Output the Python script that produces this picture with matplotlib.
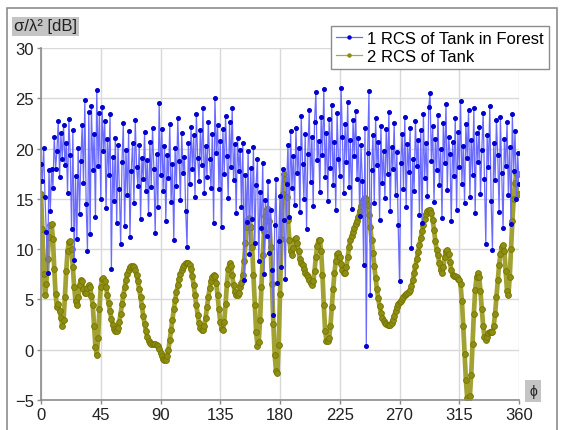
import numpy as np
import matplotlib
matplotlib.use('Agg')
import matplotlib.pyplot as plt
from matplotlib.patches import Rectangle
from matplotlib.lines import Line2D

plt.rcParams['font.family'] = ['Liberation Sans', 'DejaVu Sans']

# angle in degrees, 1 degree step
phi = np.arange(0, 361)

# 1 RCS of Tank in Forest [dB]
rcs_forest = [
    18.5, 16.8, 20.1, 15.2, 11.7, 7.6, 17.9, 13.8, 18.0, 16.1,
    21.2, 18.0, 19.8, 22.7, 17.2, 21.5, 19.0, 22.3, 18.4, 20.6,
    15.6, 22.9, 19.4, 12.0, 21.8, 8.9, 17.3, 11.0, 20.1, 13.5,
    18.8, 22.3, 16.6, 24.8, 14.5, 9.8, 23.6, 11.5, 24.2, 17.9,
    21.4, 13.2, 25.8, 18.3, 23.5, 15.0, 24.1, 19.8, 22.7, 14.1,
    21.0, 17.4, 23.4, 8.0, 19.2, 14.8, 21.1, 12.6, 20.4, 16.0,
    10.5, 18.7, 22.5, 12.3, 19.9, 15.4, 21.7, 11.2, 17.8, 20.6,
    14.6, 22.8, 18.2, 16.3, 20.4, 13.0, 19.1, 17.0, 21.6, 15.8,
    18.9, 13.5, 20.7, 16.2, 22.0, 18.0, 11.6, 19.5, 14.2, 24.5,
    17.4, 21.9, 15.8, 20.3, 12.8, 19.4, 17.1, 22.4, 14.7, 18.5,
    10.9, 20.1, 16.3, 23.0, 18.8, 14.9, 21.5, 17.6, 19.2, 13.8,
    10.2, 20.6, 16.5, 22.1, 18.0, 21.3, 15.2, 23.4, 19.1, 16.8,
    21.8, 18.4, 24.0, 15.6, 20.3, 17.2, 22.6, 19.0, 16.1, 21.4,
    12.6, 25.0, 19.6, 22.3, 16.0, 20.8, 12.2, 21.9, 17.5, 23.2,
    19.3, 15.1, 22.6, 18.2, 24.0, 16.9, 20.5, 13.6, 21.1, 17.8,
    19.9, 14.2, 20.6, 6.9, 17.4, 12.7, 19.8, 9.5, 18.1, 13.0,
    20.2, 10.6, 16.4, 19.0, 8.8, 15.7, 12.1, 18.6, 7.5, 14.9,
    11.3, 16.8, 9.6, 13.9, 7.9, 3.5, 12.4, 17.0, 6.6, 10.8,
    15.3, 8.2, 18.0, 12.9, 7.0, 16.5, 20.4, 13.2, 21.7, 16.1,
    19.3, 14.4, 22.0, 17.6, 20.1, 13.7, 23.2, 18.5, 15.0, 21.4,
    12.0, 19.5, 23.8, 16.7, 21.2, 14.3, 22.6, 25.6, 18.9, 20.8,
    15.7, 23.1, 19.4, 25.9, 17.2, 21.5, 14.8, 22.9, 18.1, 24.3,
    16.4, 20.7, 13.9, 23.5, 19.0, 17.3, 26.0, 21.2, 15.6, 22.4,
    18.7, 24.6, 16.2, 20.9, 14.0, 22.8, 19.3, 23.7, 17.0, 21.1,
    13.3, 20.4, 16.8, 8.4, 22.0, 0.35, 19.6, 25.7, 5.4, 17.9,
    21.3, 14.6, 23.0, 18.4, 20.7, 12.9, 22.2, 16.6, 19.8, 15.1,
    21.9, 17.5, 23.6, 13.8, 20.2, 18.0, 22.5, 15.4, 19.7, 12.4,
    6.8, 18.6, 21.4, 16.0, 23.1, 14.2, 20.5, 17.7, 22.0, 10.1,
    19.0, 15.8, 22.7, 18.3, 20.9, 13.4, 21.8, 12.6, 23.4, 17.1,
    20.6, 15.3, 24.1, 25.5, 18.8, 22.2, 14.7, 21.0, 17.9, 23.3,
    16.4, 20.0, 13.1, 22.5, 18.6, 24.4, 15.9, 21.2, 19.5, 12.8,
    20.7, 17.3, 23.0, 13.9, 21.6, 18.2, 24.7, 16.5, 20.3, 14.6,
    22.4, 19.1, 23.8, 15.2, 20.9, 17.4, 24.0, 13.6, 21.5, 18.7,
    22.1, 15.5, 19.9, 23.5, 17.0, 10.5, 21.3, 18.2, 24.2, 14.8,
    9.9, 20.6, 16.9, 22.8, 19.4, 13.7, 23.1, 17.6, 12.1, 21.0,
    18.3, 22.6, 15.4, 20.2, 12.5, 23.4, 17.8, 21.7, 15.0, 19.6,
    16.5,
]

# 2 RCS of Tank [dB]
rcs_tank = [
    15.5, 12.0, 7.5, 5.4, 6.5, 9.0, 11.2, 12.4, 12.5, 11.0,
    8.0, 5.5, 4.2, 4.5, 3.8, 3.2, 2.4, 3.0, 5.2, 7.8,
    9.8, 10.7, 10.8, 10.0, 8.2, 6.2, 4.8, 4.4, 5.2, 6.4,
    6.9, 6.8, 6.0, 5.6, 5.6, 6.1, 6.4, 6.2, 5.3, 4.4,
    2.4, 0.3, -0.5, 1.2, 4.0, 6.2, 7.0, 7.1, 6.8, 6.2,
    5.4, 4.6, 3.8, 3.1, 2.5, 2.1, 1.9, 1.9, 2.2, 2.8,
    3.6, 4.5, 5.4, 6.2, 6.9, 7.5, 7.9, 8.2, 8.3, 8.3,
    8.2, 7.9, 7.4, 6.8, 6.0, 5.2, 4.3, 3.4, 2.6, 1.9,
    1.3, 0.9, 0.7, 0.6, 0.6, 0.6, 0.6, 0.5, 0.4, 0.1,
    -0.3, -0.6, -0.9, -1.0, -1.0, -0.6, 0.0, 1.0, 2.0, 3.0,
    4.0, 4.9, 5.7, 6.4, 7.0, 7.5, 7.9, 8.2, 8.4, 8.6,
    8.6, 8.6, 8.4, 8.0, 7.3, 6.4, 5.4, 4.4, 3.5, 2.7,
    2.2, 2.0, 2.0, 2.4, 3.2, 4.2, 5.2, 6.1, 6.8, 7.2,
    7.4, 7.3, 6.6, 5.4, 4.0, 2.8, 2.1, 2.0, 2.8, 4.5,
    6.5, 8.0, 8.6, 8.3, 7.4, 6.4, 5.7, 5.4, 5.4, 5.6,
    6.2, 6.6, 7.4, 8.8, 10.6, 12.2, 13.0, 13.1, 12.2, 10.2,
    7.4, 4.4, 1.8, 0.4, 0.8, 3.0, 6.2, 9.4, 11.8, 13.3,
    14.0, 14.0, 12.8, 10.2, 6.5, 2.6, -0.5, -2.1, -2.3, 0.5,
    5.5, 11.0, 15.5, 17.5, 17.0, 15.2, 12.9, 10.9, 9.8, 9.4,
    10.1, 11.0, 11.1, 10.6, 9.8, 9.0, 8.6, 8.4, 8.0, 7.6,
    7.4, 7.2, 6.9, 6.6, 6.4, 6.8, 7.8, 9.2, 10.3, 10.9,
    10.9, 9.8, 7.4, 4.4, 1.9, 0.85, 0.9, 1.2, 2.4, 4.2,
    6.0, 7.6, 8.8, 9.5, 9.6, 9.2, 8.5, 7.9, 7.6, 7.6,
    8.2, 9.2, 10.2, 10.9, 11.3, 11.7, 12.1, 12.5, 12.8, 13.2,
    13.8, 14.3, 14.7, 15.0, 15.1, 15.0, 14.4, 13.4, 12.2, 10.9,
    9.6, 8.3, 7.1, 6.0, 5.1, 4.3, 3.7, 3.2, 2.9, 2.7,
    2.6, 2.5, 2.5, 2.5, 2.7, 3.0, 3.4, 3.8, 4.2, 4.5,
    4.7, 4.8, 5.0, 5.2, 5.4, 5.5, 5.6, 5.7, 5.9, 6.3,
    6.9, 7.6, 8.3, 9.0, 9.7, 10.4, 11.1, 11.8, 12.4, 13.0,
    13.5, 13.8, 13.9, 13.9, 13.6, 12.9, 11.9, 10.8, 9.9, 9.4,
    8.6, 7.9, 7.6, 8.2, 9.2, 9.8, 9.9, 9.5, 8.7, 7.9,
    7.4, 7.3, 7.3, 7.2, 7.0, 6.9, 6.5, 4.8, 2.4, -0.4,
    -3.0, -4.8, -5.2, -4.6, -2.5, 0.6, 3.6, 5.9, 7.2, 7.6,
    7.2, 5.8, 4.0, 2.4, 1.3, 0.95, 1.3, 1.7, 1.8, 1.8,
    1.8, 2.4, 3.6, 5.2, 6.9, 8.4, 9.5, 10.2, 10.4, 9.8,
    7.8, 5.8, 5.4, 7.2, 10.0, 12.8, 15.0, 16.6, 17.6, 17.5,
    15.5,
]

x_ticks = [0, 45, 90, 135, 180, 225, 270, 315, 360]
y_ticks = [-5, 0, 5, 10, 15, 20, 25, 30]

fig = plt.figure(figsize=(5.7, 4.31), dpi=100)
fig.patch.set_facecolor('white')

# outer gray frame
fig.patches.append(Rectangle((7 / 570, -0.05), 550 / 570, 1 - 9 / 431 + 0.05,
                             transform=fig.transFigure, fill=False,
                             edgecolor='#8c8c8c', linewidth=1.2))

ax = fig.add_axes([41 / 570, 1 - 401 / 431, 478 / 570, 352 / 431])

# tank curve: thick olive band with bead markers on it
ax.plot(phi, rcs_tank, color='#a2a232', linewidth=3.4,
        solid_capstyle='round', solid_joinstyle='round', zorder=2)
ax.plot(phi, rcs_tank, linestyle='none', marker='o', markersize=4.2,
        markerfacecolor='#8e8e14', markeredgecolor='#767600',
        markeredgewidth=0.6, zorder=2)
ax.plot(phi, rcs_forest, color='#6a6aff', linewidth=0.9, marker='o',
        markersize=2.6, markerfacecolor='#0000d0', markeredgecolor='#0000d0',
        zorder=3)

ax.set_xlim(0, 360)
ax.set_ylim(-5, 30)
ax.set_xticks(x_ticks)
ax.set_yticks(y_ticks)
ax.grid(True, color='#d9d9d9', linewidth=1.0)
ax.set_axisbelow(True)
for side in ['top', 'right']:
    ax.spines[side].set_visible(False)
for side in ['left', 'bottom']:
    ax.spines[side].set_color('#8c8c8c')
    ax.spines[side].set_linewidth(1.2)
ax.tick_params(colors='#8c8c8c', labelcolor='#222222', labelsize=12,
               length=3, width=1.0, pad=2)

# legend with thin handles like the original
handles = [
    Line2D([], [], color='#6a6aff', linewidth=0.9, marker='o', markersize=2.2,
           markerfacecolor='#0000d0', markeredgecolor='#0000d0'),
    Line2D([], [], color='#a8a840', linewidth=0.9, marker='o', markersize=2.2,
           markerfacecolor='#8c8c10', markeredgecolor='#8c8c10'),
]
labels = ['1 RCS of Tank in Forest', '2 RCS of Tank']
leg = fig.legend(handles, labels, loc='upper right',
                 bbox_to_anchor=(549 / 570, 1 - 27 / 431), fontsize=12,
                 frameon=True, fancybox=False, framealpha=1,
                 edgecolor='#8c8c8c', handlelength=1.6, handletextpad=0.3,
                 borderpad=0.3, labelspacing=0.15, borderaxespad=0)
leg.get_frame().set_linewidth(1.0)

# axis captions in gray boxes
fig.text(14 / 570, 1 - 27 / 431, 'σ/λ² [dB]', fontsize=12, color='#222222',
         va='center', ha='left',
         bbox=dict(facecolor='#c4c4c4', edgecolor='none', pad=1.5))
fig.text(533 / 570, 1 - 392 / 431, 'ϕ', fontsize=10, color='#222222',
         va='center', ha='center',
         bbox=dict(facecolor='#c4c4c4', edgecolor='none', pad=3))

plt.savefig('out.png', dpi=100)
